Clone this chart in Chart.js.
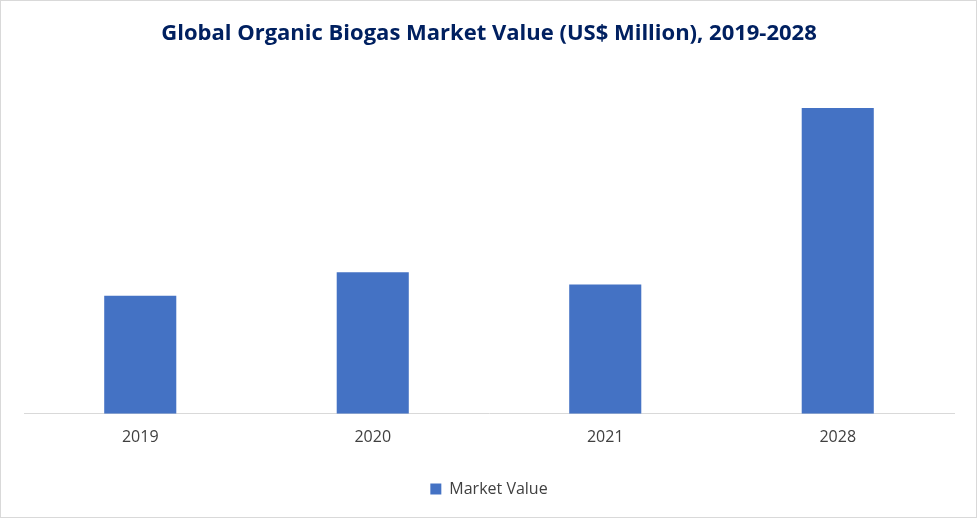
<!DOCTYPE html>
<html><head><meta charset="utf-8">
<script src="https://cdn.jsdelivr.net/npm/chart.js@4/dist/chart.umd.min.js"></script>
<style>
html,body{margin:0;padding:0;background:#fff}
#wrap{position:absolute;left:0;top:0;width:975px;height:516px;border:1px solid #d9d9d9}
</style></head><body>
<div id="wrap"><canvas id="c" width="975" height="516"></canvas></div>
<script>
const categories = ["2019","2020","2021","2028"];
const marketValue = [115, 138, 126, 298];
const seriesName = "Market Value";
new Chart(document.getElementById('c'), {
  type: 'bar',
  data: { labels: categories, datasets: [{ label: seriesName, data: marketValue, backgroundColor: '#4472C4', barPercentage: 0.62, categoryPercentage: 0.5 }] },
  options: {
    responsive: false, animation: false,
    layout: { padding: { left: 23, right: 22, top: 0, bottom: 10 } },
    plugins: {
      title: { display: true, text: 'Global Organic Biogas Market Value (US$ Million), 2019-2028', color: '#002060',
        font: { family: 'Open Sans', size: 22, weight: 'bold' }, padding: { top: 20, bottom: 38 } },
      legend: { position: 'bottom', labels: { boxWidth: 11, boxHeight: 11, color: '#404040', font: { family: 'Open Sans', size: 16 }, padding: 20 } },
      tooltip: { enabled: false }
    },
    scales: {
      x: { grid: { display: false, drawTicks: false }, border: { color: '#d9d9d9' },
        ticks: { color: '#404040', font: { family: 'Open Sans', size: 16 }, padding: 14 } },
      y: { display: false, min: 0, max: 320 }
    }
  }
});
</script></body></html>
